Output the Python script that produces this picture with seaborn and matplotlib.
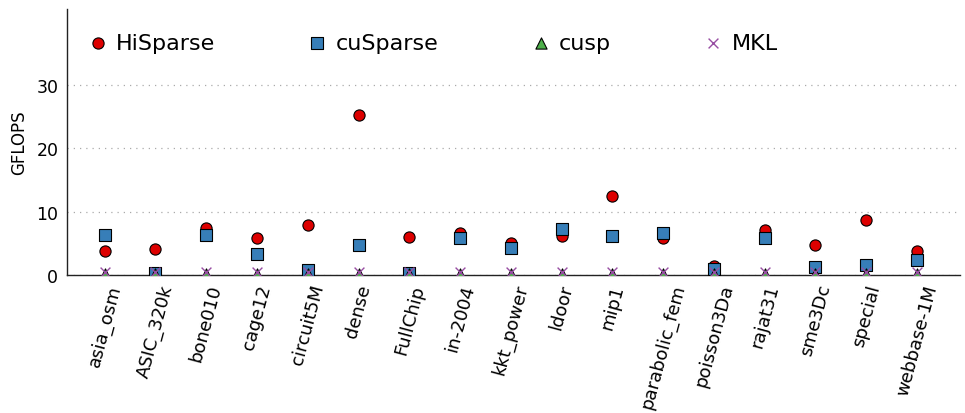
import matplotlib
matplotlib.use("Agg")
import matplotlib.pyplot as plt
import seaborn as sns
import pandas as pd
import numpy as np

matrices = ["asia_osm", "ASIC_320k", "bone010", "cage12", "circuit5M", "dense",
            "FullChip", "in-2004", "kkt_power", "ldoor", "mip1", "parabolic_fem",
            "poisson3Da", "rajat31", "sme3Dc", "special", "webbase-1M"]

hisparse = [3.8, 4.1, 7.5, 5.9, 7.9, 25.2, 6.0, 6.7, 5.1, 6.1, 12.5, 5.8,
            1.5, 7.1, 4.8, 8.7, 3.8]
cusparse = [6.4, 0.4, 6.3, 3.4, 0.8, 4.8, 0.4, 5.9, 4.3, 7.3, 6.1, 6.6,
            1.0, 5.8, 1.3, 1.6, 2.4]
cusp = [0.2, 0.2, 0.2, 0.2, 0.2, 0.2, 0.2, 0.2, 0.2, 0.2, 0.2, 0.2,
        0.2, 0.2, 0.2, 0.2, 0.2]
mkl = [0.5, 0.5, 0.5, 0.5, 0.5, 0.5, 0.5, 0.5, 0.5, 0.5, 0.5, 0.5,
       0.5, 0.5, 0.5, 0.5, 0.5]

series = [
    ("HiSparse", hisparse, "o", "#dd0000"),
    ("cuSparse", cusparse, "s", "#377eb8"),
    ("cusp", cusp, "^", "#4daf4a"),
    ("MKL", mkl, "x", "#984ea3"),
]

sns.set_style("white")
plt.rcParams["font.family"] = ["DejaVu Sans"]
for key in ["text.color", "axes.labelcolor", "xtick.color", "ytick.color"]:
    plt.rcParams[key] = "black"

fig = plt.figure(figsize=(9.65, 4.14), dpi=100)
ax = fig.add_axes([0.069, 0.333, 0.926, 0.643])

xpos = np.arange(len(matrices))
for name, vals, marker, color in series:
    df = pd.DataFrame({"x": xpos, "GFLOPS": vals})
    if marker == "x":
        sns.scatterplot(data=df, x="x", y="GFLOPS", marker=marker, color=color,
                        s=50, linewidth=1.0, label=name, ax=ax, zorder=3)
    else:
        sns.scatterplot(data=df, x="x", y="GFLOPS", marker=marker, color=color,
                        s=65, edgecolor="black", linewidth=0.8, label=name,
                        ax=ax, zorder=3)

ax.set_xlim(-0.75, 16.85)
ax.set_ylim(0, 42)
ax.set_yticks([0, 10, 20, 30])
ax.set_xticks(xpos)
ax.set_xticklabels(matrices, rotation=75, fontsize=13)
ax.tick_params(axis="y", labelsize=12.5, length=0, pad=6)
ax.tick_params(axis="x", length=0, pad=5)
ax.set_xlabel("")
ax.set_ylabel("GFLOPS", fontsize=12, labelpad=6)

ax.yaxis.grid(True, linestyle=(0, (1, 4)), color="#aaaaaa", linewidth=0.9)
ax.set_axisbelow(True)
for side in ["top", "right"]:
    ax.spines[side].set_visible(False)
for side in ["left", "bottom"]:
    ax.spines[side].set_color("#222222")
    ax.spines[side].set_linewidth(1.0)

ax.legend(loc="upper left", bbox_to_anchor=(0.0, 0.985), ncol=4, frameon=False,
          fontsize=16, handletextpad=0.32, columnspacing=4.1, markerscale=1.0,
          handlelength=1.0)

fig.savefig("out.png", dpi=100)
